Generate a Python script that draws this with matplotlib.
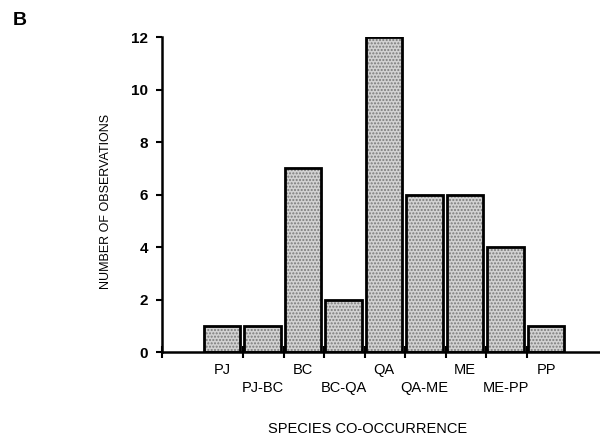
import matplotlib
matplotlib.use("Agg")
import matplotlib.pyplot as plt
import numpy as np

plt.rcParams['font.family'] = ['Liberation Sans', 'DejaVu Sans']

# species co-occurrence categories and counts
categories = ['PJ', 'PJ-BC', 'BC', 'BC-QA', 'QA', 'QA-ME', 'ME', 'ME-PP', 'PP']
counts = [1, 1, 7, 2, 12, 6, 6, 4, 1]
yticks = [0, 2, 4, 6, 8, 10, 12]

fig = plt.figure(figsize=(6, 4.38), dpi=100)
ax = fig.add_axes([0.27, 0.196, 0.73, 0.719])

x = np.arange(len(categories)) + 1.03
width = 0.9

# stippled fill, then a heavy black outline
ax.bar(x, counts, width=width, align='edge', color='#d2d2d2',
       edgecolor='#7a7a7a', hatch='.....', linewidth=0, zorder=2)
ax.bar(x, counts, width=width, align='edge', facecolor='none',
       edgecolor='black', linewidth=2.0, zorder=3)

ax.set_xlim(0, 10.81)
ax.set_ylim(0, 12)

for s in ['top', 'right']:
    ax.spines[s].set_visible(False)
ax.spines['left'].set_linewidth(1.8)
ax.spines['bottom'].set_linewidth(1.8)
ax.spines['bottom'].set_zorder(4)

ax.set_yticks(yticks)
ax.set_yticklabels([str(v) for v in yticks], fontsize=11, fontweight='bold')
ax.tick_params(axis='y', direction='out', length=4, width=1.5, pad=6)

ax.set_xticks([0, 2, 3, 4, 5, 6, 7, 8, 9])
ax.set_xticklabels([])
ax.tick_params(axis='x', direction='inout', length=8, width=1.5)

# category labels, staggered in two rows
for i, name in enumerate(categories):
    row_y = -0.057 if i % 2 == 0 else -0.114
    ax.text(x[i] + width / 2, row_y, name, transform=ax.get_xaxis_transform(),
            ha='center', va='center', fontsize=10.5)

ax.set_ylabel('NUMBER OF OBSERVATIONS', fontsize=9)
ax.yaxis.set_label_coords(-0.114, 0.48)

fig.text(0.612, 0.021, 'SPECIES CO-OCCURRENCE', ha='center', va='center', fontsize=10.5)
fig.text(0.033, 0.953, 'B', ha='center', va='center', fontsize=14, fontweight='bold')

fig.savefig('out.png', dpi=100)
